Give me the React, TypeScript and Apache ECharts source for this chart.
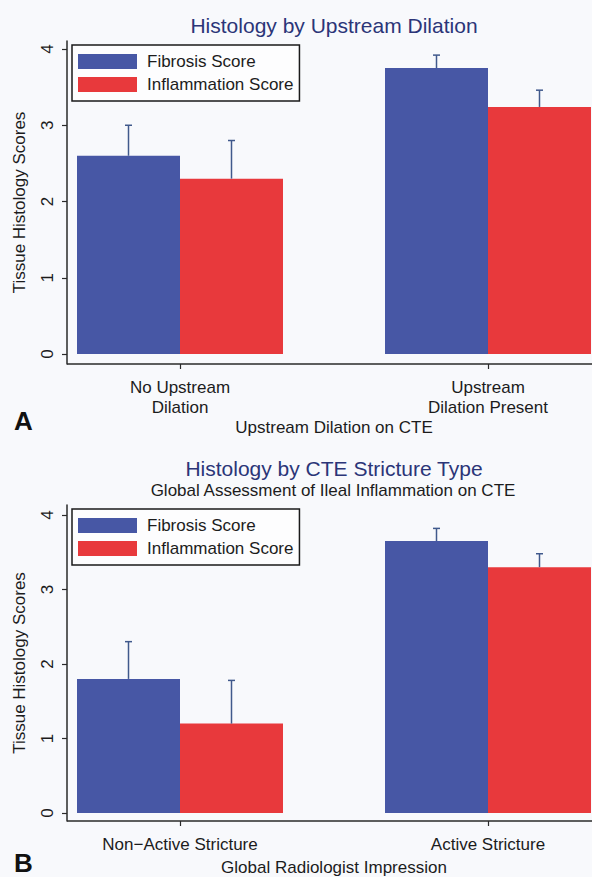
import React, { useEffect, useRef } from "react";
import * as echarts from "echarts";

// ---- data ----
const topCategories = ["No Upstream\nDilation", "Upstream\nDilation Present"];
const topFibrosis = [2.6, 3.75];
const topFibrosisUpper = [3.0, 3.92];
const topInflammation = [2.3, 3.24];
const topInflammationUpper = [2.8, 3.46];

const bottomCategories = ["Non\u2212Active Stricture", "Active Stricture"];
const bottomFibrosis = [1.8, 3.65];
const bottomFibrosisUpper = [2.3, 3.82];
const bottomInflammation = [1.2, 3.3];
const bottomInflammationUpper = [1.78, 3.48];

const yTickValues = [0, 1, 2, 3, 4];
const seriesNames = ["Fibrosis Score", "Inflammation Score"];

// ---- style ----
const FONT = "Liberation Sans, Arial, Helvetica, sans-serif";
const BLUE = "#4757a5";
const RED = "#e8393c";
const ERR = "#40598c";
const INK = "#1c1c1c";
const AXIS = "#2a2a2a";
const BG = "#f8f9fc";
const BAR_FRAC = 0.3344;

const W = 592;
const AXIS_X = 67;
const GRID_LEFT = 26;
const GRID_W = 616;
const TOP_GRID = { top: 41, height: 323 };
const BOT_GRID = { top: 505, height: 316 };

function errRender(params: any, api: any) {
  const cat = api.value(0);
  const v = api.value(1);
  const hi = api.value(2);
  const side = api.value(3);
  const base = api.coord([cat, v]);
  const top = api.coord([cat, hi]);
  const band = api.size([1, 0])[0];
  const cx = base[0] + (side * band * BAR_FRAC) / 2;
  const style = { stroke: ERR, lineWidth: 1.5 };
  return {
    type: "group",
    children: [
      { type: "line", shape: { x1: cx, y1: base[1], x2: cx, y2: top[1] }, style },
      { type: "line", shape: { x1: cx - 3.5, y1: top[1], x2: cx + 3.5, y2: top[1] }, style },
    ],
  };
}

function errData(a: number[], aHi: number[], b: number[], bHi: number[]) {
  const out: number[][] = [];
  a.forEach((v, i) => out.push([i, v, aHi[i], -1]));
  b.forEach((v, i) => out.push([i, v, bHi[i], 1]));
  return out;
}

function xAxisFor(gridIndex: number, cats: string[], name: string, nameGap: number) {
  return {
    gridIndex,
    type: "category",
    data: cats,
    axisLine: { show: false, onZero: false },
    axisTick: { show: true, alignWithLabel: true, length: 5, lineStyle: { color: AXIS, width: 1.2 } },
    axisLabel: { fontSize: 17, lineHeight: 20, margin: 13, color: INK, fontFamily: FONT },
    name,
    nameLocation: "middle",
    nameGap,
    nameTextStyle: { fontSize: 17, lineHeight: 20, color: INK, fontFamily: FONT },
    splitLine: { show: false },
  };
}

function yAxisFor(gridIndex: number, min: number, max: number) {
  return {
    gridIndex,
    type: "value",
    min,
    max,
    offset: GRID_LEFT - AXIS_X,
    axisLine: { show: true, onZero: false, lineStyle: { color: AXIS, width: 1.5 } },
    axisTick: { show: true, length: 5, customValues: yTickValues, lineStyle: { color: AXIS, width: 1.2 } },
    axisLabel: {
      customValues: yTickValues,
      rotate: 90,
      fontSize: 17,
      lineHeight: 20,
      margin: 10,
      color: INK,
      fontFamily: FONT,
    },
    splitLine: { show: false },
    name: "Tissue Histology Scores",
    nameLocation: "middle",
    nameGap: 37,
    nameTextStyle: { fontSize: 17, lineHeight: 20, color: INK, fontFamily: FONT },
  };
}

function legendFor(top: number) {
  return {
    top,
    left: 72,
    orient: "vertical",
    data: seriesNames,
    icon: "rect",
    itemWidth: 59,
    itemHeight: 15,
    itemGap: 6,
    padding: [8, 6, 8, 6],
    borderColor: "#1a1a1a",
    borderWidth: 1.5,
    borderRadius: 0,
    backgroundColor: "#fdfdfe",
    selectedMode: false,
    textStyle: { fontSize: 17, lineHeight: 15, color: INK, fontFamily: FONT, padding: [0, 0, 0, 5] },
  };
}

function barSeries(name: string, color: string, data: number[], gi: number) {
  return {
    type: "bar",
    name,
    xAxisIndex: gi,
    yAxisIndex: gi,
    data,
    barWidth: (BAR_FRAC * 100).toFixed(2) + "%",
    barGap: "0%",
    itemStyle: { color },
  };
}

export default function App() {
  const ref = useRef<HTMLDivElement>(null);
  useEffect(() => {
    if (!ref.current) return;
    const chart = echarts.init(ref.current, undefined, { renderer: "svg" });
    const topAxisY = TOP_GRID.top + TOP_GRID.height;
    const botAxisY = BOT_GRID.top + BOT_GRID.height;
    const option: any = {
      animation: false,
      backgroundColor: BG,
      textStyle: { fontFamily: FONT },
      grid: [
        { left: GRID_LEFT, width: GRID_W, top: TOP_GRID.top, height: TOP_GRID.height, outerBoundsMode: "none", containLabel: false },
        { left: GRID_LEFT, width: GRID_W, top: BOT_GRID.top, height: BOT_GRID.height, outerBoundsMode: "none", containLabel: false },
      ],
      legend: [legendFor(45), legendFor(509)],
      xAxis: [
        xAxisFor(0, topCategories, "Upstream Dilation on CTE", 48),
        xAxisFor(1, bottomCategories, "Global Radiologist Impression", 36),
      ],
      yAxis: [yAxisFor(0, -0.131, 4.105), yAxisFor(1, -0.107, 4.134)],
      series: [
        barSeries(seriesNames[0], BLUE, topFibrosis, 0),
        barSeries(seriesNames[1], RED, topInflammation, 0),
        barSeries(seriesNames[0], BLUE, bottomFibrosis, 1),
        barSeries(seriesNames[1], RED, bottomInflammation, 1),
        {
          type: "custom",
          xAxisIndex: 0,
          yAxisIndex: 0,
          z: 5,
          renderItem: errRender,
          data: errData(topFibrosis, topFibrosisUpper, topInflammation, topInflammationUpper),
        },
        {
          type: "custom",
          xAxisIndex: 1,
          yAxisIndex: 1,
          z: 5,
          renderItem: errRender,
          data: errData(bottomFibrosis, bottomFibrosisUpper, bottomInflammation, bottomInflammationUpper),
        },
      ],
      graphic: [
        { type: "line", shape: { x1: AXIS_X, y1: topAxisY, x2: W, y2: topAxisY }, style: { stroke: AXIS, lineWidth: 1.5 }, z: 10 },
        { type: "line", shape: { x1: AXIS_X, y1: botAxisY, x2: W, y2: botAxisY }, style: { stroke: AXIS, lineWidth: 1.5 }, z: 10 },
        {
          type: "text", x: 334, y: 25,
          style: { text: "Histology by Upstream Dilation", fontSize: 21, fill: "#2b3578", fontFamily: FONT, align: "center", verticalAlign: "middle" },
        },
        {
          type: "text", x: 334, y: 468,
          style: { text: "Histology by CTE Stricture Type", fontSize: 21, fill: "#2b3578", fontFamily: FONT, align: "center", verticalAlign: "middle" },
        },
        {
          type: "text", x: 333, y: 490,
          style: { text: "Global Assessment of Ileal Inflammation on CTE", fontSize: 17, fill: INK, fontFamily: FONT, align: "center", verticalAlign: "middle" },
        },
        {
          type: "text", x: 14, y: 421,
          style: { text: "A", fontSize: 26, fontWeight: "bold", fill: "#111", fontFamily: FONT, align: "left", verticalAlign: "middle" },
        },
        {
          type: "text", x: 14, y: 863,
          style: { text: "B", fontSize: 26, fontWeight: "bold", fill: "#111", fontFamily: FONT, align: "left", verticalAlign: "middle" },
        },
      ],
    };
    chart.setOption(option);
    return () => chart.dispose();
  }, []);
  return (
    <div
      ref={ref}
      style={{ position: "fixed", left: 0, top: 0, width: 592, height: 877 }}
    />
  );
}
